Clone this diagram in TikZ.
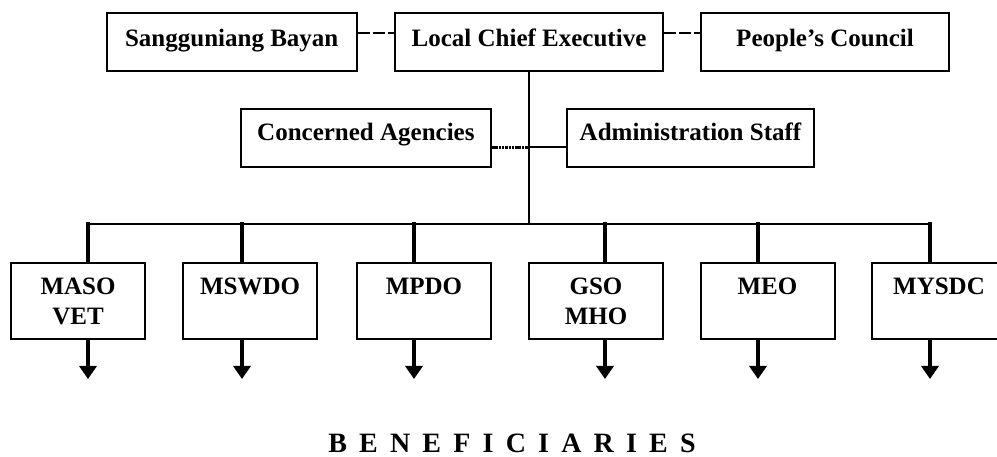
\documentclass[tikz,border=0pt]{standalone}
\usepackage{fontspec}
\setmainfont{Liberation Serif}
\usetikzlibrary{arrows.meta,calc}
\newcommand\lsp{\hspace{12.2pt}}
\begin{document}
\begin{tikzpicture}[x=1pt,y=-1pt,
  box/.style={draw, line width=2pt, inner sep=0pt, font=\bfseries\fontsize{25}{30}\selectfont},
  topbox/.style={box, minimum height=58pt, text height=17pt, text depth=7pt},
  midbox/.style={box, minimum height=57.7pt, text height=17pt, text depth=11pt},
  lowbox/.style={box, minimum width=134pt, minimum height=76pt, text height=17pt, text depth=29pt},
  thin/.style={line width=2pt},
  dashline/.style={line width=2pt, dash pattern=on 12pt off 3pt},
  drop/.style={line width=4pt},
  downarrow/.style={line width=4pt, -{Triangle[width=17pt,length=13pt]}},
  title/.style={font=\bfseries\fontsize{28}{32}\selectfont, inner sep=0pt, anchor=base}
]
\useasboundingbox (0,0) rectangle (997,457);
\clip (0,0) rectangle (997,457);

% top row
\node[topbox, minimum width=250pt] (sb) at (231.7,41.7) {Sangguniang Bayan};
\node[topbox, minimum width=268pt] (lce) at (529,41.7) {Local Chief Executive};
\node[topbox, minimum width=248pt] (pc) at (825,41.7) {People’s Council};
\coordinate (dl) at (0,32.7);
\draw[dashline] (sb.east |- dl) -- (lce.west |- dl);
\draw[dashline] (lce.east |- dl) -- (pc.west |- dl);

% middle row
\node[midbox, minimum width=250.3pt] (ca) at (365.9,137.8) {Concerned Agencies};
\node[midbox, minimum width=247pt] (as) at (690.5,137.8) {Administration Staff};
\coordinate (j) at (529,147.3);
\coordinate (bus) at (529,224.3);
\draw[thin] (lce.south) -- (bus);
\draw[line width=3.5pt, dash pattern=on 2.5pt off 0.8pt] (j -| ca.east) -- (j);
\draw[thin] (j) -- (as.west |- j);

% bottom row
\node[lowbox] (b1) at (78,301) {\begin{tabular}[t]{@{}c@{}}MASO\\VET\end{tabular}};
\node[lowbox] (b2) at (250,301) {MSWDO};
\node[lowbox] (b3) at (424,301) {MPDO};
\node[lowbox] (b4) at (596,301) {\begin{tabular}[t]{@{}c@{}}GSO\\MHO\end{tabular}};
\node[lowbox] (b5) at (767.5,301) {MEO};
\node[lowbox] (b6) at (939,301) {MYSDC};

\coordinate (d1) at (88,224.3);
\coordinate (d2) at (242,224.3);
\coordinate (d3) at (414,224.3);
\coordinate (d4) at (605,224.3);
\coordinate (d5) at (758,224.3);
\coordinate (d6) at (930,224.3);
\draw[thin] (d1) -- (d6);
\foreach \i in {1,...,6}{
  \draw[drop] ($(d\i)+(0,-2)$) -- (d\i |- b\i.north);
  \draw[downarrow] (d\i |- b\i.south) -- ($(d\i |- b\i.south)+(0,39)$);
}

\node[title] (ben) at (512,452.5) {B\lsp E\lsp N\lsp E\lsp F\lsp I\lsp C\lsp I\lsp A\lsp R\lsp I\lsp E\lsp S};
\end{tikzpicture}
\end{document}
